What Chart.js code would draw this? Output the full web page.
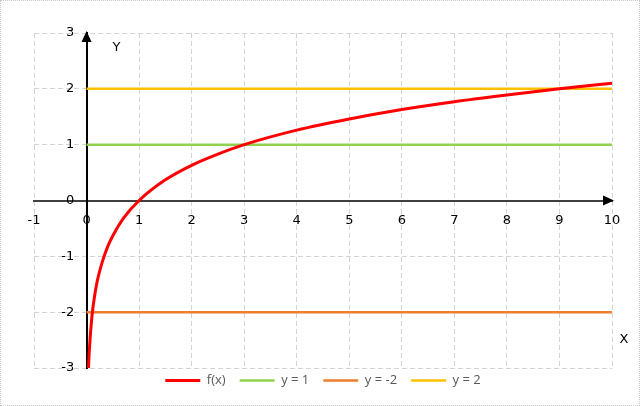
<!DOCTYPE html>
<html>
<head>
<meta charset="utf-8">
<script src="https://cdn.jsdelivr.net/npm/chart.js@4/dist/chart.umd.min.js"></script>
<style>
  html, body { margin: 0; padding: 0; background: #fff; }
  #wrap { width: 638px; height: 404px; border: 1px dotted #c8c8c8; }
</style>
</head>
<body>
<div id="wrap"><canvas id="logChart" width="638" height="404"></canvas></div>
<script>
// values
const xValues = [0.037, 0.05, 0.1, 0.15, 0.2, 0.3, 0.4, 0.5, 0.7, 1, 1.5, 2, 2.5, 3, 4, 5, 6, 7, 8, 9, 10];
const fValues = [-3.0, -2.73, -2.10, -1.73, -1.46, -1.10, -0.83, -0.63, -0.32, 0, 0.37, 0.63, 0.83, 1, 1.26, 1.46, 1.63, 1.77, 1.89, 2, 2.10];
const lineX = [0, 10];
const levelOne = [1, 1];
const levelMinusTwo = [-2, -2];
const levelTwo = [2, 2];
const xTicks = [-1, 0, 1, 2, 3, 4, 5, 6, 7, 8, 9, 10];
const yTicks = [-3, -2, -1, 0, 1, 2, 3];

function toPoints(xs, ys) {
    return xs.map(function(x, i) { return { x: x, y: ys[i] }; });
}

// arrow heads on the axes and the X / Y names
const axisArrows = {
    id: 'axisArrows',
    afterLayout: function(chart) {
        // legend sits a bit closer to the plot than its padding allows
        chart.legend.top -= 8;
        chart.legend.bottom -= 8;
    },
    afterDatasetsDraw: function(chart) {
        const ctx = chart.ctx;
        const xs = chart.scales.x, ys = chart.scales.y;
        const ox = xs.getPixelForValue(0), oy = ys.getPixelForValue(0);
        const right = xs.getPixelForValue(10), top = ys.getPixelForValue(3);
        ctx.save();
        ctx.fillStyle = '#000';
        ctx.beginPath();
        ctx.moveTo(right + 2, oy);
        ctx.lineTo(right - 9, oy - 5);
        ctx.lineTo(right - 9, oy + 5);
        ctx.closePath();
        ctx.fill();
        ctx.beginPath();
        ctx.moveTo(ox, top - 2);
        ctx.lineTo(ox - 5, top + 9);
        ctx.lineTo(ox + 5, top + 9);
        ctx.closePath();
        ctx.fill();
        ctx.font = '13px "DejaVu Sans"';
        ctx.textAlign = 'center';
        ctx.textBaseline = 'middle';
        ctx.fillText('Y', ox + 30, top + 15);
        ctx.fillText('X', right + 12, ys.getPixelForValue(-2.5));
        ctx.restore();
    }
};

const ctx = document.getElementById('logChart').getContext('2d');
const logChart = new Chart(ctx, {
    type: 'scatter',
    data: {
        datasets: [{
            label: 'f(x)',
            data: toPoints(xValues, fValues),
            borderColor: '#ff0000',
            backgroundColor: '#ff0000',
            borderWidth: 3,
            showLine: true,
            pointRadius: 0,
            pointStyle: 'line',
            cubicInterpolationMode: 'monotone'
        }, {
            label: 'y = 1',
            data: toPoints(lineX, levelOne),
            borderColor: '#92d050',
            backgroundColor: '#92d050',
            borderWidth: 2.5,
            showLine: true,
            pointRadius: 0,
            pointStyle: 'line'
        }, {
            label: 'y = -2',
            data: toPoints(lineX, levelMinusTwo),
            borderColor: '#ed7d31',
            backgroundColor: '#ed7d31',
            borderWidth: 2.5,
            showLine: true,
            pointRadius: 0,
            pointStyle: 'line'
        }, {
            label: 'y = 2',
            data: toPoints(lineX, levelTwo),
            borderColor: '#ffc000',
            backgroundColor: '#ffc000',
            borderWidth: 2.5,
            showLine: true,
            pointRadius: 0,
            pointStyle: 'line'
        }]
    },
    options: {
        responsive: false,
        animation: false,
        layout: { padding: { left: 33, right: 27, top: 32, bottom: 0 } },
        plugins: {
            tooltip: { enabled: false },
            legend: {
                position: 'bottom',
                labels: {
                    usePointStyle: true,
                    pointStyle: 'line',
                    pointStyleWidth: 35,
                    padding: 14,
                    color: '#595959',
                    font: { family: 'Open Sans', size: 13 }
                }
            }
        },
        scales: {
            x: {
                type: 'linear',
                min: -1,
                max: 10,
                position: { y: 0 },
                afterBuildTicks: function(axis) { axis.ticks = xTicks.map(function(v) { return { value: v }; }); },
                grid: {
                    color: '#d4d4d4',
                    lineWidth: 1,
                    drawTicks: false
                },
                border: { color: '#404040', width: 2, dash: [5, 3] },
                ticks: {
                    color: '#000',
                    padding: 12,
                    maxRotation: 0,
                    font: { family: 'DejaVu Sans', size: 13 }
                }
            },
            y: {
                type: 'linear',
                min: -3,
                max: 3,
                position: { x: 0 },
                afterBuildTicks: function(axis) { axis.ticks = yTicks.map(function(v) { return { value: v }; }); },
                grid: {
                    color: '#d4d4d4',
                    lineWidth: 1,
                    drawTicks: false
                },
                border: { color: '#000', width: 2, dash: [5, 3] },
                ticks: {
                    color: '#000',
                    font: { family: 'DejaVu Sans', size: 13 },
                    // a positioned axis ignores padding, so pad with spaces
                    callback: function(value) { return value + '   '; }
                }
            }
        }
    },
    plugins: [axisArrows]
});
</script>
</body>
</html>
